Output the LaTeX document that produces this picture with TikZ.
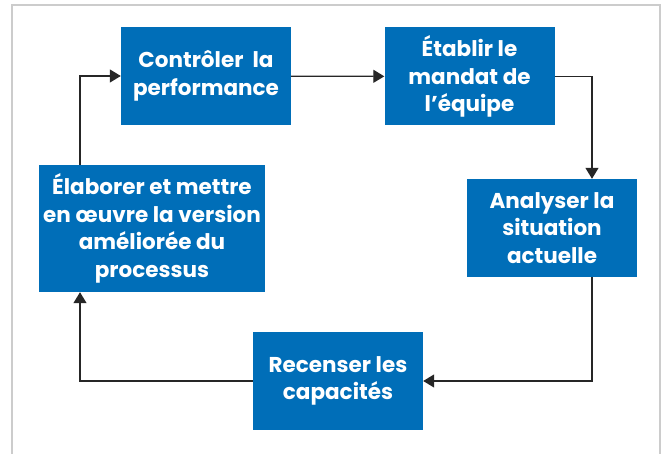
\documentclass[tikz,border=0pt]{standalone}
\usepackage{fontspec}
\setmainfont{Poppins}
\usetikzlibrary{arrows.meta}
\definecolor{boxblue}{RGB}{0,110,184}
\tikzset{
  stage/.style={fill=boxblue,text=white,font=\bfseries\fontsize{21.5}{27.5}\selectfont,
    align=center,inner sep=0pt,minimum width=170pt,minimum height=98pt},
  arr/.style={-{Triangle[length=11pt,width=13pt]},line width=1.3pt,black!85}
}
\begin{document}
\begin{tikzpicture}[x=1pt,y=-1pt]
  \useasboundingbox (0,0) rectangle (662,454);
  % outer frame, its lower edge runs off the page
  \draw[line width=1.5pt,black!20] (12,470) -- (12,5) -- (660,5) -- (660,470);
  \node[stage] (ctrl) at (206,76) {Contrôler\ \ la\\performance};
  \node[stage] (mandat) at (469.5,76.5) {Établir le\\mandat de\\l’équipe};
  \node[stage] (analyse) at (552,228) {Analyser la\\situation\\actuelle};
  \node[stage] (recense) at (338,381) {Recenser les\\capacités};
  \node[stage,minimum width=226pt,minimum height=127pt] (elabore) at (152,228.5)
    {Élaborer et mettre\\en œuvre la version\\améliorée du\\processus};
  \coordinate (lcol) at (80,381);
  \coordinate (rcol) at (592,76);
  \draw[arr] (ctrl) -- (mandat);
  \draw[arr] (mandat.east) -| (rcol |- analyse.north);
  \draw[arr] (analyse.south -| rcol) |- (recense.east);
  \draw[arr] (recense.west) -- (lcol) -- (lcol |- elabore.south);
  \draw[arr] (elabore.north -| lcol) |- (ctrl.west);
\end{tikzpicture}
\end{document}
